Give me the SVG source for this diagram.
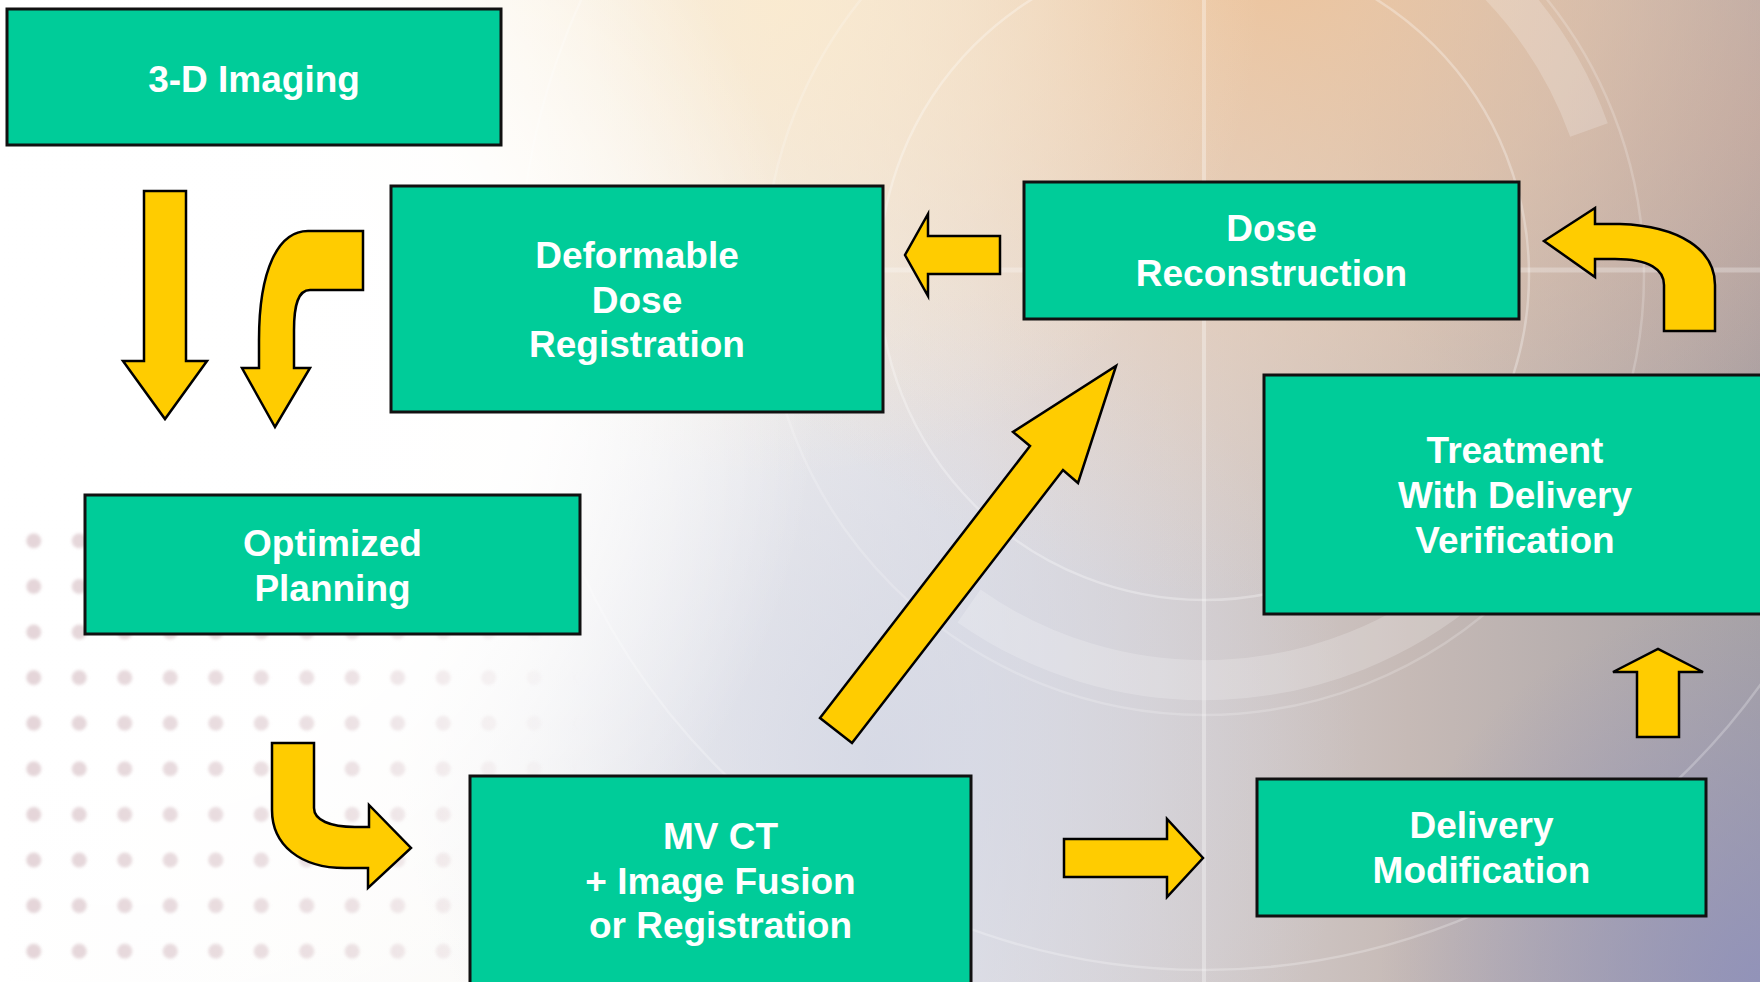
<svg xmlns="http://www.w3.org/2000/svg" width="1760" height="982" viewBox="0 0 1760 982">
<style>
.box{fill:#00CC99;stroke:#111;stroke-width:3}
.lbl{font-family:"Liberation Sans",Arial,sans-serif;font-weight:bold;font-size:37px;fill:#fff;text-anchor:middle}
.arrow{fill:#FFCC00;stroke:#000;stroke-width:2.5;stroke-linejoin:miter}
.ring{fill:none;stroke:#fff}
</style>
<defs>
<linearGradient id="bgBase" gradientUnits="userSpaceOnUse" x1="0" y1="0" x2="1760" y2="0">
<stop offset="0" stop-color="#FFFFFF"/>
<stop offset="0.3" stop-color="#FBFAF8"/>
<stop offset="0.55" stop-color="#E2E1E6"/>
<stop offset="0.8" stop-color="#C6BAB6"/>
<stop offset="1" stop-color="#A7A2A6"/>
</linearGradient>
<radialGradient id="warm" gradientUnits="userSpaceOnUse" cx="1260" cy="-80" r="680">
<stop offset="0" stop-color="#F0C396" stop-opacity="0.95"/>
<stop offset="0.5" stop-color="#F2CFAE" stop-opacity="0.55"/>
<stop offset="1" stop-color="#F2D6BE" stop-opacity="0"/>
</radialGradient>
<radialGradient id="cream" gradientUnits="userSpaceOnUse" cx="780" cy="0" r="480">
<stop offset="0" stop-color="#FBEBCF" stop-opacity="0.9"/>
<stop offset="1" stop-color="#FBEBCF" stop-opacity="0"/>
</radialGradient>
<radialGradient id="mauve" gradientUnits="userSpaceOnUse" cx="1760" cy="120" r="420">
<stop offset="0" stop-color="#BBA099" stop-opacity="0.8"/>
<stop offset="1" stop-color="#BBA099" stop-opacity="0"/>
</radialGradient>
<radialGradient id="blueC" gradientUnits="userSpaceOnUse" cx="880" cy="760" r="480">
<stop offset="0" stop-color="#D2D6E4" stop-opacity="0.8"/>
<stop offset="1" stop-color="#D2D6E4" stop-opacity="0"/>
</radialGradient>
<radialGradient id="lav" gradientUnits="userSpaceOnUse" cx="1760" cy="982" r="380">
<stop offset="0" stop-color="#8E90BC" stop-opacity="0.85"/>
<stop offset="1" stop-color="#8E90BC" stop-opacity="0"/>
</radialGradient>
<radialGradient id="whiteL" gradientUnits="userSpaceOnUse" cx="120" cy="380" r="700">
<stop offset="0" stop-color="#FFFFFF" stop-opacity="1"/>
<stop offset="0.55" stop-color="#FFFFFF" stop-opacity="0.9"/>
<stop offset="1" stop-color="#FFFFFF" stop-opacity="0"/>
</radialGradient>
<filter id="soft" x="-5%" y="-5%" width="110%" height="110%">
<feGaussianBlur stdDeviation="1.6"/>
</filter>
<pattern id="dots" patternUnits="userSpaceOnUse" x="11" y="518" width="45.5" height="45.6">
<circle cx="22.75" cy="22.8" r="7.5" fill="#DDC9CE"/>
</pattern>
<linearGradient id="fadeG" gradientUnits="userSpaceOnUse" x1="0" y1="0" x2="580" y2="0">
<stop offset="0" stop-color="#fff" stop-opacity="0.8"/>
<stop offset="0.6" stop-color="#fff" stop-opacity="0.55"/>
<stop offset="1" stop-color="#fff" stop-opacity="0"/>
</linearGradient>
<mask id="fade" maskUnits="userSpaceOnUse" x="0" y="520" width="600" height="462">
<rect x="0" y="520" width="600" height="462" fill="url(#fadeG)"/>
</mask>
</defs>

<g id="background">
<rect x="0" y="0" width="1760" height="982" fill="url(#bgBase)"/>
<rect x="0" y="0" width="1760" height="982" fill="url(#blueC)"/>
<rect x="0" y="0" width="1760" height="982" fill="url(#mauve)"/>
<rect x="0" y="0" width="1760" height="982" fill="url(#warm)"/>
<rect x="0" y="0" width="1760" height="982" fill="url(#cream)"/>
<rect x="0" y="0" width="1760" height="982" fill="url(#lav)"/>
<rect x="0" y="0" width="1760" height="982" fill="url(#whiteL)"/>
<g mask="url(#fade)">
<rect x="0" y="520" width="600" height="462" fill="url(#dots)" filter="url(#soft)"/>
</g>
<line x1="1204" y1="0" x2="1204" y2="982" stroke="#fff" stroke-opacity="0.32" stroke-width="4"/>
<line x1="883" y1="270" x2="1760" y2="270" stroke="#fff" stroke-opacity="0.28" stroke-width="5"/>
<circle class="ring" cx="1204" cy="275" r="325" stroke-opacity="0.3" stroke-width="2.5"/>
<circle class="ring" cx="1204" cy="275" r="440" stroke-opacity="0.2" stroke-width="2.5"/>
<path class="ring" d="M1494,-20 A410,410 0 0 1 1589,130" stroke-opacity="0.2" stroke-width="40"/>
<path class="ring" d="M1468,584 A410,410 0 0 1 969,606" stroke-opacity="0.2" stroke-width="40"/>
<circle class="ring" cx="1204" cy="285" r="685" stroke-opacity="0.25" stroke-width="2.5"/>
</g>

<g id="connectors">
<path class="arrow" d="M144,191 L186,191 L186,361 L207,361 L165,419 L123,361 L144,361 Z"/>
<path class="arrow" d="M363,231 L308,231 C278,231 259,270 259,340 L259,368 L242,368 L275,427 L310,368 L294,368 L294,330 C294,305 298,290 310,290 L363,290 Z"/>
<path class="arrow" d="M1000,236 L928,236 L928,214 L905,255 L928,296 L928,274 L1000,274 Z"/>
<path class="arrow" d="M1595,224 L1620,224 C1680,226 1715,250 1715,285 L1715,331 L1664,331 L1664,285 C1664,270 1650,259 1615,259 L1595,259 L1595,277 L1544,241 L1595,208 Z"/>
<path class="arrow" d="M1116,366 L1078,483 L1063,470 L852,743 L820,718 L1030,446 L1013,432 Z"/>
<path class="arrow" d="M272,743 L314,743 L314,808 C314,820 330,827 355,827 L369,827 L369,805 L411,848 L368,888 L368,868 L345,868 C300,868 272,845 272,810 Z"/>
<path class="arrow" d="M1064,839 L1167,839 L1167,819 L1203,858 L1167,897 L1167,877 L1064,877 Z"/>
<path class="arrow" d="M1637,737 L1637,672 L1613,672 L1658,649 L1703,672 L1679,672 L1679,737 Z"/>
</g>

<g id="node-3d-imaging">
<rect class="box" x="7" y="9" width="494" height="136"/>
<text class="lbl" x="254" y="92">3-D Imaging</text>
</g>
<g id="node-deformable">
<rect class="box" x="391" y="186" width="492" height="226"/>
<text class="lbl" x="637" y="268">Deformable</text>
<text class="lbl" x="637" y="313">Dose</text>
<text class="lbl" x="637" y="357">Registration</text>
</g>
<g id="node-dose-recon">
<rect class="box" x="1024" y="182" width="495" height="137"/>
<text class="lbl" x="1271.5" y="241">Dose</text>
<text class="lbl" x="1271.5" y="286">Reconstruction</text>
</g>
<g id="node-treatment">
<rect class="box" x="1264" y="375" width="510" height="239"/>
<text class="lbl" x="1515" y="463">Treatment</text>
<text class="lbl" x="1515" y="508">With Delivery</text>
<text class="lbl" x="1515" y="553">Verification</text>
</g>
<g id="node-optimized">
<rect class="box" x="85" y="495" width="495" height="139"/>
<text class="lbl" x="332.5" y="556">Optimized</text>
<text class="lbl" x="332.5" y="601">Planning</text>
</g>
<g id="node-mvct">
<rect class="box" x="470" y="776" width="501" height="214"/>
<text class="lbl" x="720.5" y="849">MV CT</text>
<text class="lbl" x="720.5" y="894">+ Image Fusion</text>
<text class="lbl" x="720.5" y="938">or Registration</text>
</g>
<g id="node-delivery-mod">
<rect class="box" x="1257" y="779" width="449" height="137"/>
<text class="lbl" x="1481.5" y="838">Delivery</text>
<text class="lbl" x="1481.5" y="883">Modification</text>
</g>
</svg>
